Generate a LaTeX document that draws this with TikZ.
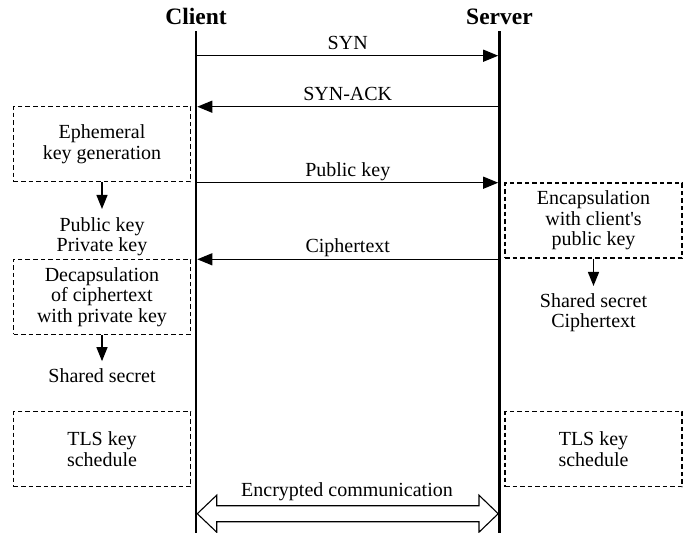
\documentclass[tikz,border=0pt]{standalone}
\usepackage{fontspec}
\setmainfont{Liberation Serif}
\usetikzlibrary{arrows.meta,calc}
\begin{document}
\begin{tikzpicture}[x=1pt,y=-1pt,
  txt/.style={font=\fontsize{20}{20.5}\selectfont, align=center, inner sep=0pt},
  party/.style={font=\fontsize{23.5}{25}\selectfont\bfseries, anchor=base, inner sep=0pt},
  lifeline/.style={line width=2.6pt},
  msg/.style={line width=1.3pt, -{Triangle[length=15pt,width=12pt]}, shorten >=1.3pt},
  msglabel/.style={txt, anchor=base, yshift=6.5pt},
  stepbox/.style={txt, draw, dash pattern=on 4.5pt off 3pt, line width=1.1pt,
                  minimum width=177pt, minimum height=75pt},
  down/.style={line width=1.3pt, -{Triangle[length=14pt,width=11pt]}},
  dblarrow/.style={line width=1.1pt, fill=white, line join=miter},
]
\useasboundingbox (0,0) rectangle (697,533);
\fill[white] (0,0) rectangle (697,533);

% participants
\node[party] (client) at (196,24) {Client};
\node[party] (server) at (499.5,24) {Server};
\coordinate (ctop) at (196,31);
\coordinate (cbot) at (196,533);
\coordinate (stop) at (499.5,31);
\coordinate (sbot) at (499.5,533);

% message anchors on the lifelines
\coordinate (c1) at (196,55.7);   \coordinate (s1) at (499.5,55.7);
\coordinate (c2) at (196,106.7);  \coordinate (s2) at (499.5,106.7);
\coordinate (c3) at (196,182.7);  \coordinate (s3) at (499.5,182.7);
\coordinate (c4) at (196,259.3);  \coordinate (s4) at (499.5,259.3);
\coordinate (c5) at (196,513.7);  \coordinate (s5) at (499.5,513.7);

% client-side steps
\node[stepbox] (eph) at (102,144.2) {Ephemeral\\key generation};
\node[txt, inner ysep=8pt] (pk) at (102,236.5) {Public key\\Private key};
\draw[down] (eph) -- (pk);

\node[stepbox] (dec) at (102,296.8) {Decapsulation\\of ciphertext\\with private key};
\node[txt, inner ysep=7.5pt] (ss1) at (102,375.9) {Shared secret};
\draw[down] (dec) -- (ss1);

\node[stepbox] (tls1) at (102,449.2) {TLS key\\schedule};

% server-side steps
\node[stepbox] (enc) at (593.5,220.5) {Encapsulation\\with client\textquotesingle s\\public key};
\node[txt, inner ysep=7pt] (ss2) at (593.5,312.5) {Shared secret\\Ciphertext};
\draw[down] (enc) -- (ss2);

\node[stepbox] (tls2) at (593.5,449.2) {TLS key\\schedule};

% messages
\draw[msg] (c1) -- node[msglabel] {SYN} (s1);
\draw[msg] (s2) -- node[msglabel] {SYN-ACK} (c2);
\draw[msg] (c3) -- node[msglabel] {Public key} (s3);
\draw[msg] (s4) -- node[msglabel] {Ciphertext} (c4);

% encrypted channel
\draw[dblarrow] ([xshift=1.3pt]c5) -- ($(c5)+(20.7,-18.5)$) -- ($(c5)+(20.7,-8)$)
  -- ($(s5)+(-20.5,-8)$) -- ($(s5)+(-20.5,-18.5)$) -- ([xshift=-1.3pt]s5)
  -- ($(s5)+(-20.5,18.5)$) -- ($(s5)+(-20.5,8)$) -- ($(c5)+(20.7,8)$)
  -- ($(c5)+(20.7,18.5)$) -- cycle;
\node[txt, anchor=base] (enclbl) at (347,496.7) {Encrypted communication};

% lifelines
\draw[lifeline] (ctop) -- (cbot);
\draw[lifeline] (stop) -- (sbot);
\end{tikzpicture}
\end{document}
